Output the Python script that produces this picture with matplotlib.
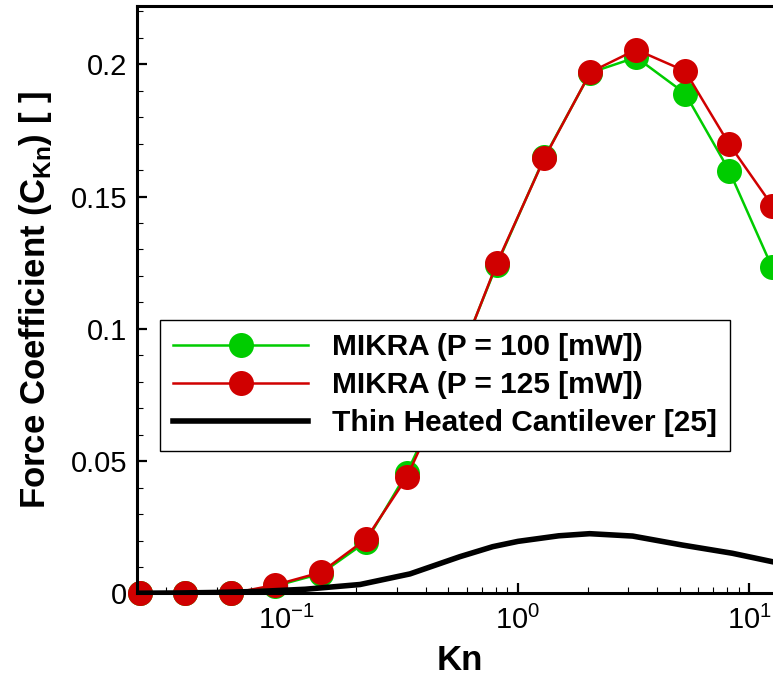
import numpy as np
import matplotlib
matplotlib.use("Agg")
import matplotlib.pyplot as plt
from matplotlib.ticker import LogLocator, MultipleLocator, FixedLocator

# =========================
# Datos
# =========================
kn = [0.0233, 0.0364, 0.0573, 0.0890, 0.1406, 0.2198, 0.3304, 0.5176,
      0.8091, 1.300, 2.056, 3.243, 5.284, 8.185, 12.56]
ckn_100 = [0.0, 0.0, 0.0, 0.0028, 0.0075, 0.0195, 0.0455, 0.0820,
           0.1242, 0.1648, 0.1968, 0.2026, 0.1889, 0.1598, 0.1232]
ckn_125 = [0.0, 0.0, 0.0, 0.0032, 0.0080, 0.0205, 0.0439, 0.0814,
           0.1247, 0.1645, 0.1970, 0.2055, 0.1974, 0.1698, 0.1466]

kn_cant = [0.0225, 0.035, 0.05, 0.0767, 0.12, 0.2075, 0.341, 0.56, 0.778,
           1.0, 1.5, 2.04, 3.13, 5.14, 8.45, 12.6, 14.0]
ckn_cant = [0.0001, 0.0002, 0.0004, 0.0008, 0.0016, 0.0034, 0.0074, 0.0139,
            0.0177, 0.0197, 0.0218, 0.0226, 0.0217, 0.0183, 0.0152, 0.0120, 0.0113]

labels = ["MIKRA (P = 100 [mW])", "MIKRA (P = 125 [mW])",
          "Thin Heated Cantilever [25]"]

# =========================
# Estilo
# =========================
plt.rcParams["font.family"] = ["Liberation Sans", "DejaVu Sans"]
plt.rcParams["mathtext.fontset"] = "custom"
plt.rcParams["mathtext.rm"] = "Liberation Sans"
plt.rcParams["mathtext.bf"] = "Liberation Sans:bold"
plt.rcParams["axes.unicode_minus"] = False

verde = "#00cc00"
rojo = "#d00000"

fig = plt.figure(figsize=(7.73, 6.81), dpi=100)
ax = fig.add_axes([0.1772, 0.1285, 0.8358, 0.8627])

ax.plot(kn, ckn_100, color=verde, lw=1.8, marker="o", ms=18,
        mec=verde, mew=0, clip_on=False, zorder=3, label=labels[0])
ax.plot(kn, ckn_125, color=rojo, lw=1.8, marker="o", ms=18,
        mec=rojo, mew=0, clip_on=False, zorder=4, label=labels[1])
ax.plot(kn_cant, ckn_cant, color="black", lw=4, zorder=5, label=labels[2])

ax.set_xscale("log")
ax.set_xlim(0.0225, 14.0)
ax.set_ylim(0, 0.222)

ax.yaxis.set_major_locator(FixedLocator([0, 0.05, 0.1, 0.15, 0.2]))
ax.yaxis.set_minor_locator(MultipleLocator(0.01))
ax.set_yticklabels(["0", "0.05", "0.1", "0.15", "0.2"])
ax.xaxis.set_major_locator(LogLocator(base=10, numticks=10))
ax.xaxis.set_minor_locator(LogLocator(base=10, subs=np.arange(2, 10), numticks=20))

for s in ax.spines.values():
    s.set_linewidth(2.2)
    s.set_zorder(6)
ax.tick_params(which="major", direction="in", length=7.5, width=1.6,
               labelsize=21, pad=7)
ax.tick_params(which="minor", direction="in", length=4.5, width=0.8)
ax.tick_params(axis="x", which="major", pad=9)

ax.set_xlabel("Kn", fontsize=25, fontweight="bold", labelpad=6)
ax.set_ylabel(r"Force Coefficient (C$_{\mathbf{Kn}}$) [ ]", fontsize=25,
              fontweight="bold", labelpad=12)

leg = ax.legend(loc="upper left", bbox_to_anchor=(0.0356, 0.4655),
                prop={"weight": "bold", "size": 21.5}, handlelength=4.5,
                handletextpad=0.8, labelspacing=0.33, borderpad=0.45,
                borderaxespad=0, fancybox=False, framealpha=1,
                edgecolor="black")
leg.get_frame().set_linewidth(1.0)
leg.set_zorder(7)

fig.savefig("out.png", dpi=100)
